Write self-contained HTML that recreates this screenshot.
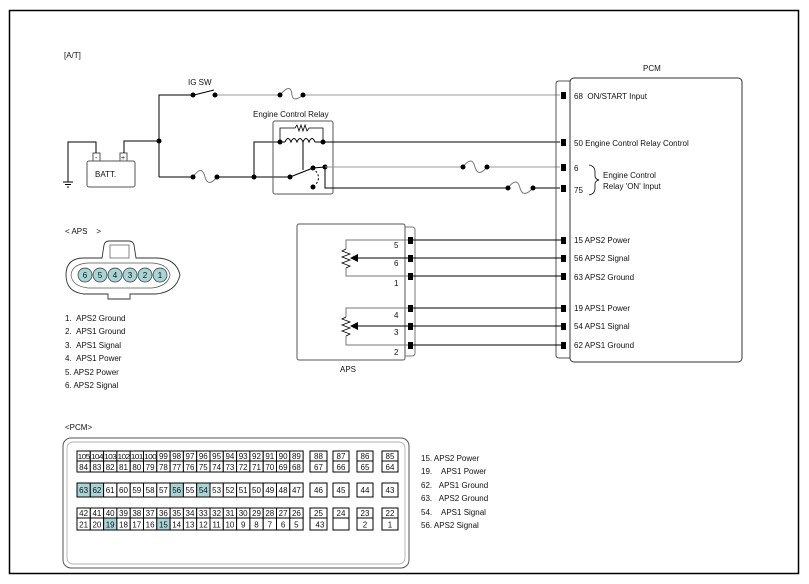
<!DOCTYPE html>
<html><head><meta charset="utf-8"><style>
html,body{margin:0;padding:0;background:#fff;width:809px;height:584px;overflow:hidden}
svg{display:block;font-family:"Liberation Sans",Arial,sans-serif}
text{font-size:8px;fill:#111}
.g rect{fill:#fff;stroke:#000;stroke-width:1}
.g text{font-size:8px;text-anchor:middle}
.g text.s{font-size:7.5px;letter-spacing:-0.6px}
</style></head><body>
<svg width="809" height="584" viewBox="0 0 809 584" xmlns="http://www.w3.org/2000/svg">
<rect x="9.5" y="10.5" width="789" height="563" fill="none" stroke="#000" stroke-width="1.5"/>
<text x="64" y="58">[A/T]</text>

<text x="188" y="85">IG SW</text>
<polyline points="159,141 159,95 193,95" fill="none" stroke="#000"/>
<line x1="194" y1="95" x2="214" y2="90" stroke="#000"/>
<line x1="215" y1="95" x2="280" y2="95" stroke="#999"/>
<path d="M280,95 Q291,82 292,95 Q293,103 303,95" fill="none" stroke="#777"/>
<line x1="303" y1="95" x2="560" y2="95" stroke="#999"/>
<g fill="#000"><circle cx="193" cy="95" r="2.5"/><circle cx="215" cy="95" r="2.5"/><circle cx="280" cy="95" r="2.5"/><circle cx="303" cy="95" r="2.5"/></g>

<rect x="87" y="161" width="48" height="26" rx="2" fill="#fff" stroke="#555"/>
<rect x="93" y="153" width="7" height="8" fill="#fff" stroke="#555"/>
<rect x="120" y="153" width="7" height="8" fill="#fff" stroke="#555"/>
<text x="95" y="160" style="font-size:7px">-</text>
<text x="121" y="160" style="font-size:7px">+</text>
<text x="95" y="177">BATT.</text>
<polyline points="96,153 96,142 68,142 68,182" fill="none" stroke="#000"/>
<line x1="63" y1="182" x2="73" y2="182" stroke="#000"/><line x1="65" y1="184.5" x2="71" y2="184.5" stroke="#000"/><line x1="67" y1="187" x2="69" y2="187" stroke="#000"/>
<polyline points="124,153 124,141 159,141" fill="none" stroke="#000"/>
<line x1="159" y1="141" x2="159" y2="177" stroke="#000"/>
<circle cx="159" cy="141" r="2.5"/>
<line x1="159" y1="177" x2="193" y2="177" stroke="#000"/>
<path d="M193,177 Q202,164 205,177 Q208,188 217,177" fill="none" stroke="#777"/>
<line x1="217" y1="177" x2="290" y2="177" stroke="#000"/>
<g fill="#000"><circle cx="193" cy="177" r="2.5"/><circle cx="217" cy="177" r="2.5"/><circle cx="254" cy="177" r="2.5"/></g>
<polyline points="254,177 254,142 280,142" fill="none" stroke="#000"/>

<text x="253" y="117">Engine Control Relay</text>
<rect x="273" y="121" width="60" height="73" rx="2" fill="none" stroke="#555"/>
<polyline points="280,142 280,128 295,128 297,125 299,131 301,125 303,131 305,125 307,131 309,128 323,128 323,142" fill="none" stroke="#000" stroke-width="0.8"/>
<path d="M285,142 q3,-7 6,0 q3,-7 6,0 q3,-7 6,0 q3,-7 6,0 q3,-7 6,0" fill="none" stroke="#000"/>
<line x1="280" y1="142" x2="285" y2="142" stroke="#000"/><line x1="315" y1="142" x2="323" y2="142" stroke="#000"/>
<line x1="303" y1="142" x2="303" y2="170" stroke="#000"/>
<line x1="290" y1="177" x2="313" y2="168" stroke="#000"/>
<path d="M313,168 Q324,178 313,187" fill="none" stroke="#000" stroke-dasharray="2,2"/>
<g fill="#000"><circle cx="280" cy="142" r="2.5"/><circle cx="323" cy="142" r="2.5"/><circle cx="290" cy="177" r="2.5"/><circle cx="313" cy="168" r="2.5"/><circle cx="325" cy="167" r="2.5"/><circle cx="313" cy="187" r="2.5"/></g>
<line x1="323" y1="142" x2="560" y2="142" stroke="#000"/>
<line x1="313" y1="168" x2="325" y2="167" stroke="#000"/>
<line x1="325" y1="167" x2="463" y2="167" stroke="#999"/>
<path d="M463,167 Q472,155 475,167 Q478,178 487,167" fill="none" stroke="#777"/>
<line x1="487" y1="167" x2="560" y2="167" stroke="#999"/>
<polyline points="325,167 325,188 508,188" fill="none" stroke="#000"/>
<path d="M508,188 Q517,176 520,188 Q523,199 533,188" fill="none" stroke="#777"/>
<line x1="533" y1="188" x2="560" y2="188" stroke="#000"/>
<g fill="#000"><circle cx="463" cy="167" r="2.5"/><circle cx="487" cy="167" r="2.5"/><circle cx="508" cy="188" r="2.5"/><circle cx="533" cy="188" r="2.5"/></g>

<text x="643" y="71">PCM</text>
<path d="M556,84 Q556,81 559,81 L570,81" fill="none" stroke="#555"/>
<line x1="556" y1="84" x2="556" y2="355" stroke="#555"/>
<path d="M556,355 Q556,358 559,358 L570,358" fill="none" stroke="#555"/>
<rect x="570" y="78" width="172" height="284" rx="4" fill="#fff" stroke="#333"/>
<g fill="#000">
<rect x="561" y="92" width="5" height="7"/><rect x="561" y="139" width="5" height="7"/><rect x="561" y="164" width="5" height="7"/><rect x="561" y="185" width="5" height="7"/>
<rect x="561" y="237" width="5" height="7"/><rect x="561" y="255" width="5" height="7"/><rect x="561" y="273" width="5" height="7"/><rect x="561" y="305" width="5" height="7"/><rect x="561" y="323" width="5" height="7"/><rect x="561" y="342" width="5" height="7"/>
</g>
<text x="574" y="99">68&#160;&#160;ON/START Input</text>
<text x="574" y="146">50 Engine Control Relay Control</text>
<text x="574" y="171">6</text>
<text x="574" y="193">75</text>
<path d="M589,165 Q595,166 595,172 L595,176 Q595,179 599,180 Q595,181 595,184 L595,188 Q595,194 589,195" fill="none" stroke="#000" stroke-width="0.8"/>
<text x="603" y="178">Engine Control</text>
<text x="603" y="189">Relay 'ON' Input</text>
<text x="574" y="243">15 APS2 Power</text>
<text x="574" y="261">56 APS2 Signal</text>
<text x="574" y="280">63 APS2 Ground</text>
<text x="574" y="311">19 APS1 Power</text>
<text x="574" y="329">54 APS1 Signal</text>
<text x="574" y="348">62 APS1 Ground</text>

<rect x="297" y="224" width="108" height="136" rx="2" fill="#fff" stroke="#555"/>
<path d="M405,227 L412,227 Q415,227 415,230 L415,353 Q415,356 412,356 L405,356" fill="none" stroke="#777"/>
<g fill="#000">
<rect x="408" y="237" width="5" height="7"/><rect x="408" y="255" width="5" height="7"/><rect x="408" y="273" width="5" height="7"/><rect x="408" y="305" width="5" height="7"/><rect x="408" y="323" width="5" height="7"/><rect x="408" y="342" width="5" height="7"/>
</g>
<g stroke="#000"><line x1="411" y1="240" x2="561" y2="240"/><line x1="411" y1="258" x2="561" y2="258"/><line x1="411" y1="276" x2="561" y2="276"/><line x1="411" y1="308" x2="561" y2="308"/><line x1="411" y1="326" x2="561" y2="326"/><line x1="411" y1="345" x2="561" y2="345"/></g>
<g fill="none" stroke="#777"><polyline points="408,240 346,240 346,249"/><polyline points="346,268 346,276 408,276"/><polyline points="408,308 346,308 346,317"/><polyline points="346,336 346,345 408,345"/></g>
<polyline points="346,249 342,251 350,254 342,257 350,260 342,263 350,266 346,268" fill="none" stroke="#000" stroke-width="0.8"/>
<polyline points="346,317 342,319 350,322 342,325 350,328 342,331 350,334 346,336" fill="none" stroke="#000" stroke-width="0.8"/>
<line x1="356" y1="258" x2="408" y2="258" stroke="#000"/><polygon points="350,258 358,254 358,262" fill="#000"/>
<line x1="356" y1="326" x2="408" y2="326" stroke="#000"/><polygon points="350,326 358,322 358,330" fill="#000"/>
<text x="394" y="248">5</text><text x="394" y="266">6</text><text x="394" y="286">1</text>
<text x="394" y="318">4</text><text x="394" y="335">3</text><text x="394" y="355">2</text>
<text x="340" y="372">APS</text>

<text x="65" y="234">&lt; APS&#160;&#160;&#160;&#160;&gt;</text>
<path d="M84,258 L102,258 L104,245 Q105,241 109,241 L129,241 Q133,241 134,245 L136,258 L156,258 Q176,258 180,275 Q176,292 156,294 L130,294 L130,299 L108,299 L108,294 L84,294 Q66,292 66,275 Q66,258 84,258 Z" fill="#fff" stroke="#333" stroke-width="0.9"/>
<path d="M88,263 L152,263 Q168,264 170,275 Q168,286 152,288 L88,288 Q72,286 71,275 Q72,264 88,263 Z" fill="none" stroke="#555" stroke-width="0.7"/>
<rect x="110" y="245" width="19" height="13" fill="none" stroke="#555" stroke-width="0.7"/>
<g fill="#a8d4d8" stroke="#333" stroke-width="0.7">
<circle cx="85" cy="275" r="7"/><circle cx="100" cy="275" r="7"/><circle cx="115" cy="275" r="7"/><circle cx="130" cy="275" r="7"/><circle cx="145" cy="275" r="7"/><circle cx="160" cy="275" r="7"/></g>
<g style="font-size:8px;text-anchor:middle">
<text x="85" y="278">6</text><text x="100" y="278">5</text><text x="115" y="278">4</text><text x="130" y="278">3</text><text x="145" y="278">2</text><text x="160" y="278">1</text></g>
<text x="65" y="321">1.&#160;&#160;APS2 Ground</text>
<text x="65" y="334">2.&#160;&#160;APS1 Ground</text>
<text x="65" y="348">3.&#160;&#160;APS1 Signal</text>
<text x="65" y="361">4.&#160;&#160;APS1 Power</text>
<text x="65" y="375">5. APS2 Power</text>
<text x="65" y="388">6. APS2 Signal</text>

<text x="65" y="430">&lt;PCM&gt;</text>
<rect x="63" y="438" width="346" height="130" rx="8" fill="none" stroke="#555"/>
<rect x="67" y="442" width="338" height="122" rx="6" fill="none" stroke="#999" stroke-width="0.7"/>
<g class="g">
<rect x="77" y="451" width="13.3" height="10"/><rect x="90.3" y="451" width="13.3" height="10"/><rect x="103.6" y="451" width="13.3" height="10"/><rect x="116.9" y="451" width="13.3" height="10"/><rect x="130.2" y="451" width="13.3" height="10"/><rect x="143.5" y="451" width="13.3" height="10"/><rect x="156.8" y="451" width="13.3" height="10"/><rect x="170.1" y="451" width="13.3" height="10"/><rect x="183.4" y="451" width="13.3" height="10"/><rect x="196.7" y="451" width="13.3" height="10"/><rect x="210" y="451" width="13.3" height="10"/><rect x="223.3" y="451" width="13.3" height="10"/><rect x="236.6" y="451" width="13.3" height="10"/><rect x="249.9" y="451" width="13.3" height="10"/><rect x="263.2" y="451" width="13.3" height="10"/><rect x="276.5" y="451" width="13.3" height="10"/><rect x="289.8" y="451" width="13.3" height="10"/>
<text class="s" x="83.6" y="459" textLength="12" lengthAdjust="spacingAndGlyphs">105</text><text class="s" x="96.9" y="459" textLength="12" lengthAdjust="spacingAndGlyphs">104</text><text class="s" x="110.2" y="459" textLength="12" lengthAdjust="spacingAndGlyphs">103</text><text class="s" x="123.5" y="459" textLength="12" lengthAdjust="spacingAndGlyphs">102</text><text class="s" x="136.8" y="459" textLength="12" lengthAdjust="spacingAndGlyphs">101</text><text class="s" x="150.1" y="459" textLength="12" lengthAdjust="spacingAndGlyphs">100</text><text x="163.4" y="459">99</text><text x="176.7" y="459">98</text><text x="190" y="459">97</text><text x="203.3" y="459">96</text><text x="216.6" y="459">95</text><text x="229.9" y="459">94</text><text x="243.2" y="459">93</text><text x="256.5" y="459">92</text><text x="269.8" y="459">91</text><text x="283.1" y="459">90</text><text x="296.4" y="459">89</text>
<rect x="77" y="461" width="13.3" height="11"/><rect x="90.3" y="461" width="13.3" height="11"/><rect x="103.6" y="461" width="13.3" height="11"/><rect x="116.9" y="461" width="13.3" height="11"/><rect x="130.2" y="461" width="13.3" height="11"/><rect x="143.5" y="461" width="13.3" height="11"/><rect x="156.8" y="461" width="13.3" height="11"/><rect x="170.1" y="461" width="13.3" height="11"/><rect x="183.4" y="461" width="13.3" height="11"/><rect x="196.7" y="461" width="13.3" height="11"/><rect x="210" y="461" width="13.3" height="11"/><rect x="223.3" y="461" width="13.3" height="11"/><rect x="236.6" y="461" width="13.3" height="11"/><rect x="249.9" y="461" width="13.3" height="11"/><rect x="263.2" y="461" width="13.3" height="11"/><rect x="276.5" y="461" width="13.3" height="11"/><rect x="289.8" y="461" width="13.3" height="11"/>
<text x="83.6" y="470">84</text><text x="96.9" y="470">83</text><text x="110.2" y="470">82</text><text x="123.5" y="470">81</text><text x="136.8" y="470">80</text><text x="150.1" y="470">79</text><text x="163.4" y="470">78</text><text x="176.7" y="470">77</text><text x="190" y="470">76</text><text x="203.3" y="470">75</text><text x="216.6" y="470">74</text><text x="229.9" y="470">73</text><text x="243.2" y="470">72</text><text x="256.5" y="470">71</text><text x="269.8" y="470">70</text><text x="283.1" y="470">69</text><text x="296.4" y="470">68</text>
<rect x="77" y="483" width="13.3" height="14" style="fill:#a8d4d8"/><rect x="90.3" y="483" width="13.3" height="14" style="fill:#a8d4d8"/><rect x="103.6" y="483" width="13.3" height="14"/><rect x="116.9" y="483" width="13.3" height="14"/><rect x="130.2" y="483" width="13.3" height="14"/><rect x="143.5" y="483" width="13.3" height="14"/><rect x="156.8" y="483" width="13.3" height="14"/><rect x="170.1" y="483" width="13.3" height="14" style="fill:#a8d4d8"/><rect x="183.4" y="483" width="13.3" height="14"/><rect x="196.7" y="483" width="13.3" height="14" style="fill:#a8d4d8"/><rect x="210" y="483" width="13.3" height="14"/><rect x="223.3" y="483" width="13.3" height="14"/><rect x="236.6" y="483" width="13.3" height="14"/><rect x="249.9" y="483" width="13.3" height="14"/><rect x="263.2" y="483" width="13.3" height="14"/><rect x="276.5" y="483" width="13.3" height="14"/><rect x="289.8" y="483" width="13.3" height="14"/>
<text x="83.6" y="493">63</text><text x="96.9" y="493">62</text><text x="110.2" y="493">61</text><text x="123.5" y="493">60</text><text x="136.8" y="493">59</text><text x="150.1" y="493">58</text><text x="163.4" y="493">57</text><text x="176.7" y="493">56</text><text x="190" y="493">55</text><text x="203.3" y="493">54</text><text x="216.6" y="493">53</text><text x="229.9" y="493">52</text><text x="243.2" y="493">51</text><text x="256.5" y="493">50</text><text x="269.8" y="493">49</text><text x="283.1" y="493">48</text><text x="296.4" y="493">47</text>
<rect x="77" y="508" width="13.3" height="10"/><rect x="90.3" y="508" width="13.3" height="10"/><rect x="103.6" y="508" width="13.3" height="10"/><rect x="116.9" y="508" width="13.3" height="10"/><rect x="130.2" y="508" width="13.3" height="10"/><rect x="143.5" y="508" width="13.3" height="10"/><rect x="156.8" y="508" width="13.3" height="10"/><rect x="170.1" y="508" width="13.3" height="10"/><rect x="183.4" y="508" width="13.3" height="10"/><rect x="196.7" y="508" width="13.3" height="10"/><rect x="210" y="508" width="13.3" height="10"/><rect x="223.3" y="508" width="13.3" height="10"/><rect x="236.6" y="508" width="13.3" height="10"/><rect x="249.9" y="508" width="13.3" height="10"/><rect x="263.2" y="508" width="13.3" height="10"/><rect x="276.5" y="508" width="13.3" height="10"/><rect x="289.8" y="508" width="13.3" height="10"/>
<text x="83.6" y="516">42</text><text x="96.9" y="516">41</text><text x="110.2" y="516">40</text><text x="123.5" y="516">39</text><text x="136.8" y="516">38</text><text x="150.1" y="516">37</text><text x="163.4" y="516">36</text><text x="176.7" y="516">35</text><text x="190" y="516">34</text><text x="203.3" y="516">33</text><text x="216.6" y="516">32</text><text x="229.9" y="516">31</text><text x="243.2" y="516">30</text><text x="256.5" y="516">29</text><text x="269.8" y="516">28</text><text x="283.1" y="516">27</text><text x="296.4" y="516">26</text>
<rect x="77" y="518" width="13.3" height="12"/><rect x="90.3" y="518" width="13.3" height="12"/><rect x="103.6" y="518" width="13.3" height="12" style="fill:#a8d4d8"/><rect x="116.9" y="518" width="13.3" height="12"/><rect x="130.2" y="518" width="13.3" height="12"/><rect x="143.5" y="518" width="13.3" height="12"/><rect x="156.8" y="518" width="13.3" height="12" style="fill:#a8d4d8"/><rect x="170.1" y="518" width="13.3" height="12"/><rect x="183.4" y="518" width="13.3" height="12"/><rect x="196.7" y="518" width="13.3" height="12"/><rect x="210" y="518" width="13.3" height="12"/><rect x="223.3" y="518" width="13.3" height="12"/><rect x="236.6" y="518" width="13.3" height="12"/><rect x="249.9" y="518" width="13.3" height="12"/><rect x="263.2" y="518" width="13.3" height="12"/><rect x="276.5" y="518" width="13.3" height="12"/><rect x="289.8" y="518" width="13.3" height="12"/>
<text x="83.6" y="527.5">21</text><text x="96.9" y="527.5">20</text><text x="110.2" y="527.5">19</text><text x="123.5" y="527.5">18</text><text x="136.8" y="527.5">17</text><text x="150.1" y="527.5">16</text><text x="163.4" y="527.5">15</text><text x="176.7" y="527.5">14</text><text x="190" y="527.5">13</text><text x="203.3" y="527.5">12</text><text x="216.6" y="527.5">11</text><text x="229.9" y="527.5">10</text><text x="243.2" y="527.5">9</text><text x="256.5" y="527.5">8</text><text x="269.8" y="527.5">7</text><text x="283.1" y="527.5">6</text><text x="296.4" y="527.5">5</text>
<rect x="310" y="451" width="17" height="10"/><rect x="333" y="451" width="16" height="10"/><rect x="357" y="451" width="16" height="10"/><rect x="382" y="451" width="16" height="10"/>
<rect x="310" y="461" width="17" height="11"/><rect x="333" y="461" width="16" height="11"/><rect x="357" y="461" width="16" height="11"/><rect x="382" y="461" width="16" height="11"/>
<rect x="310" y="483" width="17" height="14"/><rect x="333" y="483" width="16" height="14"/><rect x="357" y="483" width="16" height="14"/><rect x="382" y="483" width="16" height="14"/>
<rect x="310" y="508" width="17" height="10"/><rect x="333" y="508" width="16" height="10"/><rect x="357" y="508" width="16" height="10"/><rect x="382" y="508" width="16" height="10"/>
<rect x="310" y="518" width="17" height="12"/><rect x="333" y="518" width="16" height="12"/><rect x="357" y="518" width="16" height="12"/><rect x="382" y="518" width="16" height="12"/>
<text x="318.5" y="459">88</text><text x="341" y="459">87</text><text x="365" y="459">86</text><text x="390" y="459">85</text>
<text x="318.5" y="470">67</text><text x="341" y="470">66</text><text x="365" y="470">65</text><text x="390" y="470">64</text>
<text x="318.5" y="493">46</text><text x="341" y="493">45</text><text x="365" y="493">44</text><text x="390" y="493">43</text>
<text x="318.5" y="516">25</text><text x="341" y="516">24</text><text x="365" y="516">23</text><text x="390" y="516">22</text>
<text x="320" y="527.5">43</text><text x="365" y="527.5">2</text><text x="390" y="527.5">1</text>
</g>
<text x="421" y="461">15. APS2 Power</text>
<text x="421" y="474">19.&#160;&#160;&#160;&#160;APS1 Power</text>
<text x="421" y="488">62.&#160;&#160;&#160;APS1 Ground</text>
<text x="421" y="501">63.&#160;&#160;&#160;APS2 Ground</text>
<text x="421" y="515">54.&#160;&#160;&#160;&#160;APS1 Signal</text>
<text x="421" y="528">56. APS2 Signal</text>
</svg>
</body></html>
